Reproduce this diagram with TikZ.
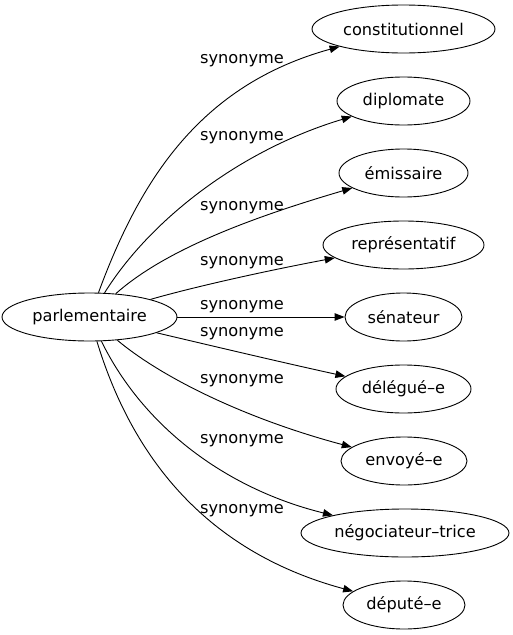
\documentclass[tikz,border=0pt]{standalone}
\usepackage{fontspec}
\setmainfont{DejaVu Sans}
\usetikzlibrary{shapes.geometric,arrows.meta}
\tikzset{
  word/.style={draw, ellipse, line width=0.9pt, inner sep=0pt, minimum height=48pt, font=\fontsize{16.2}{19}\selectfont},
  edgelabel/.style={anchor=base, inner sep=0pt, font=\fontsize{16.2}{19}\selectfont},
  link/.style={line width=0.9pt, -{Triangle[length=10pt,width=7.5pt]}}
}
\begin{document}
\begin{tikzpicture}[x=1pt,y=-1pt]
\useasboundingbox (0,0) rectangle (512,635);
\node[word, minimum width=175pt] (p) at (89.5,317) {parlementaire};
\node[word, minimum width=183pt] (n1) at (403.5,29) {constitutionnel};
\node[word, minimum width=133pt] (n2) at (403.5,101) {diplomate};
\node[word, minimum width=129pt] (n3) at (403.5,173) {émissaire};
\node[word, minimum width=161pt] (n4) at (403.5,245) {représentatif};
\node[word, minimum width=117pt] (n5) at (403.5,317) {sénateur};
\node[word, minimum width=135pt] (n6) at (403.5,389) {délégué–e};
\node[word, minimum width=126pt] (n7) at (404,461) {envoyé–e};
\node[word, minimum width=208pt] (n8) at (405,533) {négociateur–trice};
\node[word, minimum width=122pt] (n9) at (404,605) {député–e};

\draw[link] (p) .. controls (140,180) and (200,85) .. (n1);
\draw[link] (p) .. controls (150,220) and (240,150) .. (n2);
\draw[link] (p) .. controls (165,250) and (250,218) .. (n3);
\draw[link] (p) .. controls (190,288) and (260,272) .. (n4);
\draw[link] (p) -- (n5);
\draw[link] (p) .. controls (200,343) and (280,362) .. (n6);
\draw[link] (p) .. controls (165,380) and (250,420) .. (n7);
\draw[link] (p) .. controls (145,430) and (230,490) .. (n8);
\draw[link] (p) .. controls (130,450) and (200,550) .. (n9);

\node[edgelabel] (l1) at (242,63) {synonyme};
\node[edgelabel] (l2) at (242,140) {synonyme};
\node[edgelabel] (l3) at (242,210) {synonyme};
\node[edgelabel] (l4) at (242,265) {synonyme};
\node[edgelabel] (l5) at (242,309) {synonyme};
\node[edgelabel] (l6) at (242,336) {synonyme};
\node[edgelabel] (l7) at (242,383) {synonyme};
\node[edgelabel] (l8) at (242,443) {synonyme};
\node[edgelabel] (l9) at (242,513) {synonyme};
\end{tikzpicture}
\end{document}
